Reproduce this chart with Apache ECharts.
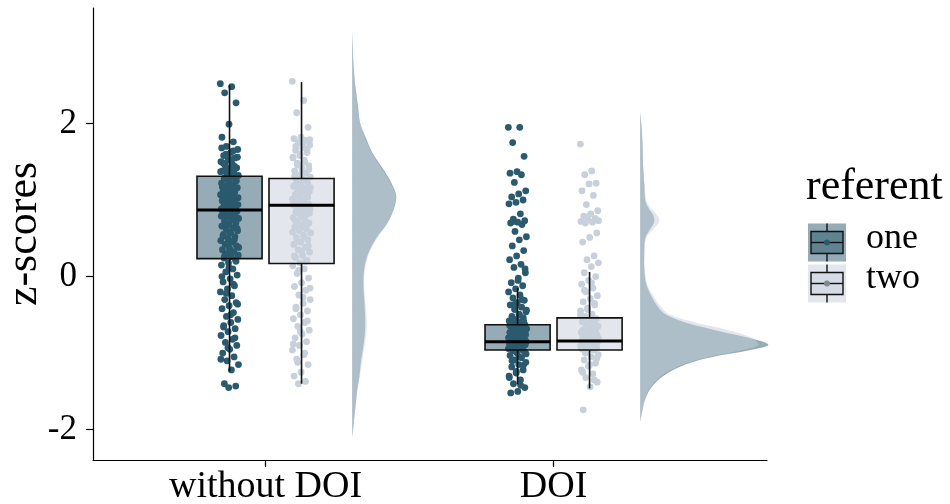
<!DOCTYPE html>
<html><head><meta charset="utf-8">
<script src="https://cdn.jsdelivr.net/npm/echarts@6/dist/echarts.min.js"></script>
<style>html,body{margin:0;padding:0;background:#fff}#c{width:950px;height:504px}</style>
</head><body><div id="c"></div><script>
// ---------- data ----------
const categories = ['without DOI', 'DOI'];
const referents = ['one', 'two'];
const yTicks = [-2, 0, 2];
// [lower whisker, Q1, median, Q3, upper whisker]
const boxOne = [[-1.24, 0.235, 0.87, 1.31, 2.50], [-1.41, -0.96, -0.85, -0.63, -0.15]];
const boxTwo = [[-1.40, 0.17, 0.93, 1.28, 2.54], [-1.46, -0.96, -0.84, -0.54, 0.06]];

const ptsOneWithout = [2.52, 2.48, 2.40, 2.27, 1.99, 1.82, 1.76, 1.70, 1.66, 1.62, 1.58, 1.55, 1.52, 1.50, 1.47, 1.45, 1.42, 1.40, 1.38, 1.36, 1.34, 1.32,
  1.30, 1.28, 1.26, 1.24, 1.22, 1.20, 1.18, 1.16, 1.14, 1.12, 1.10, 1.09, 1.07, 1.05, 1.04, 1.02, 1.00, 0.99, 0.97, 0.96, 0.94, 0.92, 0.91, 0.90,
  0.89, 0.88, 0.87, 0.86, 0.85, 0.84, 0.82, 0.80, 0.78, 0.76, 0.74, 0.72, 0.70, 0.68, 0.66, 0.64, 0.62, 0.60, 0.57, 0.55, 0.52, 0.50, 0.47, 0.45,
  0.42, 0.40, 0.37, 0.35, 0.32, 0.30, 0.28, 0.26, 0.24,
  0.22, 0.18, 0.15, 0.10, 0.06, 0.02, -0.03, -0.07, -0.12, -0.16, -0.20, -0.25, -0.30, -0.34, -0.38, -0.42, -0.47, -0.52, -0.56, -0.60,
  -0.64, -0.68, -0.72, -0.77, -0.82, -0.86, -0.90, -0.95, -1.00, -1.05, -1.10, -1.15, -1.22, -1.40, -1.43, -1.45,
  1.68, 1.64, 1.60, 1.56, 1.53, 1.48, 1.44, 1.41, 1.37, 1.33, 1.29, 1.25, 1.21, 1.17, 1.13, 1.08, 1.03, 0.98, 0.93, 0.88, 0.83, 0.79,
  0.75, 0.69, 0.63, 0.58, 0.53, 0.48, 0.43, 0.38, 0.33, 0.27, 0.20, 0.12, 0.00, -0.10, -0.22, -0.36, -0.50, -0.66, -0.80, -0.93, -1.08];
const ptsTwoWithout = [2.55, 2.30, 2.14, 1.95, 1.82, 1.80, 1.78, 1.75, 1.72, 1.68, 1.65, 1.62, 1.58, 1.55, 1.52, 1.48, 1.45, 1.42, 1.38, 1.35, 1.32, 1.30,
  1.27, 1.25, 1.22, 1.20, 1.18, 1.15, 1.13, 1.11, 1.09, 1.07, 1.05, 1.03, 1.01, 0.99, 0.97, 0.95, 0.94, 0.93, 0.92, 0.90, 0.88, 0.86, 0.84, 0.82,
  0.80, 0.77, 0.75, 0.72, 0.70, 0.67, 0.65, 0.62, 0.60, 0.57, 0.54, 0.51, 0.48, 0.45, 0.42, 0.38, 0.35, 0.32, 0.28, 0.25, 0.21, 0.18,
  0.14, 0.10, 0.04, -0.02, -0.08, -0.13, -0.18, -0.24, -0.30, -0.35, -0.40, -0.45, -0.50, -0.55, -0.60, -0.65, -0.70, -0.75, -0.80, -0.85,
  -0.90, -0.96, -1.02, -1.08, -1.15, -1.25, -1.30, -1.37, -1.40,
  1.79, 1.74, 1.70, 1.66, 1.60, 1.56, 1.50, 1.46, 1.40, 1.36, 1.31, 1.26, 1.21, 1.16, 1.12, 1.08, 1.04, 1.00, 0.96, 0.91, 0.87, 0.83,
  0.78, 0.73, 0.68, 0.63, 0.58, 0.52, 0.46, 0.40, 0.33, 0.27, 0.20, 0.08, -0.15, -0.27, -0.42, -0.58, -0.72, -0.88, -1.00, -1.12];
const ptsOneDOI = [1.95, 1.95, 1.75, 1.57, 1.37, 1.35, 1.33, 1.23, 1.12, 1.08, 1.04, 1.00, 0.97, 0.95, 0.82, 0.75, 0.73, 0.71, 0.70, 0.68, 0.59, 0.52,
  0.48, 0.40, 0.34, 0.27, 0.22, 0.16, 0.12, 0.05, -0.02, -0.08, -0.12, -0.16, -0.20, -0.24, -0.28, -0.31, -0.34, -0.37, -0.40, -0.43, -0.46,
  -0.49, -0.52, -0.54, -0.56, -0.58, -0.60, -0.62,
  -0.63, -0.64, -0.65, -0.66, -0.67, -0.68, -0.69, -0.70, -0.71, -0.72, -0.73, -0.74, -0.75, -0.76, -0.77, -0.78, -0.79, -0.80, -0.80, -0.81,
  -0.82, -0.82, -0.83, -0.84, -0.84, -0.85, -0.85, -0.86, -0.86, -0.87, -0.87, -0.88, -0.88, -0.89, -0.89, -0.90, -0.91, -0.92, -0.93, -0.94,
  -0.95, -0.96, -0.98, -1.00, -1.03, -1.06, -1.09, -1.12, -1.15, -1.18, -1.22, -1.26, -1.30, -1.35, -1.40, -1.45, -1.50, -1.52,
  -0.30, -0.36, -0.44, -0.50, -0.55, -0.59, -0.61, -0.64, -0.66, -0.68, -0.70, -0.72, -0.74, -0.76, -0.78, -0.80, -0.83, -0.86, -0.88,
  -0.90, -0.92, -0.94, -0.97, -1.01, -1.05, -1.10, -1.16, -1.24, -1.32, -1.42, 0.72, 0.10, -0.05];
const ptsTwoDOI = [1.73, 1.38, 1.33, 1.22, 1.21, 1.12, 1.06, 0.94, 0.86, 0.82, 0.79, 0.76, 0.74, 0.72, 0.71, 0.70, 0.57, 0.51, 0.45, 0.27, 0.22, 0.18,
  0.13, 0.05, 0.00, -0.05, -0.10, -0.15, -0.20, -0.25, -0.29, -0.33, -0.37, -0.41, -0.45, -0.49, -0.52,
  -0.55, -0.57, -0.59, -0.61, -0.63, -0.65, -0.67, -0.69, -0.70, -0.72, -0.73, -0.74, -0.75, -0.76, -0.77, -0.78, -0.79, -0.80, -0.81,
  -0.82, -0.82, -0.83, -0.83, -0.84, -0.84, -0.85, -0.85, -0.86, -0.87, -0.88, -0.89, -0.90, -0.91, -0.92, -0.93, -0.94, -0.95, -0.96,
  -0.99, -1.02, -1.05, -1.09, -1.13, -1.17, -1.22, -1.27, -1.32, -1.38, -1.44, -1.74,
  -0.35, -0.43, -0.50, -0.56, -0.60, -0.64, -0.68, -0.71, -0.75, -0.78, -0.81, -0.84, -0.86, -0.88, -0.90, -0.93, -0.95, -1.00,
  -1.07, -1.15, -1.25, -1.35, 0.78, 0.73, -0.08, -0.18];

// density estimates (half violins)
const densWithoutY = [3.2, 3.0, 2.8, 2.6, 2.4, 2.2, 2.0, 1.8, 1.6, 1.4, 1.2, 1.05, 0.9, 0.7, 0.5, 0.3, 0.1, -0.1, -0.3, -0.5, -0.7, -0.9, -1.1, -1.3, -1.5, -1.7, -1.9, -2.1];
const densWithoutOne = [0, 0.008, 0.015, 0.028, 0.05, 0.075, 0.10, 0.175, 0.26, 0.39, 0.50, 0.55, 0.525, 0.44, 0.30, 0.20, 0.15, 0.14, 0.15, 0.16, 0.16, 0.14, 0.11, 0.09, 0.06, 0.04, 0.02, 0];
const densWithoutTwo = [0, 0.006, 0.012, 0.025, 0.045, 0.07, 0.10, 0.165, 0.25, 0.375, 0.49, 0.545, 0.52, 0.44, 0.31, 0.21, 0.16, 0.15, 0.16, 0.18, 0.18, 0.155, 0.125, 0.095, 0.06, 0.04, 0.02, 0];
const densDOIY = [2.15, 2.0, 1.8, 1.6, 1.4, 1.2, 1.0, 0.9, 0.8, 0.72, 0.62, 0.5, 0.3, 0.1, -0.1, -0.25, -0.4, -0.5, -0.6, -0.7, -0.8, -0.89, -0.96, -1.05, -1.15, -1.3, -1.45, -1.6, -1.75, -1.9];
const densDOIOne = [0, 0.0125, 0.025, 0.031, 0.0375, 0.05, 0.0625, 0.1, 0.1625, 0.175, 0.125, 0.0625, 0.05, 0.05, 0.075, 0.1375, 0.225, 0.325, 0.5625, 0.9375, 1.35, 1.6, 1.375, 0.9, 0.5625, 0.2875, 0.1375, 0.0625, 0.025, 0];
const densDOITwo = [0, 0.0125, 0.025, 0.031, 0.0375, 0.056, 0.075, 0.125, 0.2125, 0.2375, 0.1625, 0.075, 0.05, 0.056, 0.0875, 0.1625, 0.2625, 0.375, 0.6875, 1.1, 1.4, 1.475, 1.275, 0.85, 0.525, 0.2625, 0.125, 0.0625, 0.031, 0];

// ---------- style / layout ----------
const FONT = 'Liberation Serif';
const darkCol = '#2b5a6e', lightCol = '#c8d0db';
const darkFill = 'rgba(43,90,110,0.5)', lightFill = 'rgba(200,208,219,0.5)';
const offsets = [-0.125, 0.125];
const boxW = 0.226, jitterW = 0.032, violinOffset = 0.301, violinScale = 0.278;

const chart = echarts.init(document.getElementById('c'), null, {renderer: 'canvas'});

function jit(i) { return (((i * 0.6180339887) % 1) - 0.5) * 2 * jitterW; }
function pts(arr, cat, r) { return arr.map((v, i) => [cat + offsets[r] + jit(i), v]); }

function boxData(stats, r) { return stats.map((s, ci) => [ci + 1 + offsets[r]].concat(s)); }

const violins = [
  {cat: 1, ys: densWithoutY, d: densWithoutOne, fill: darkFill},
  {cat: 2, ys: densDOIY, d: densDOIOne, fill: darkFill},
  {cat: 1, ys: densWithoutY, d: densWithoutTwo, fill: lightFill},
  {cat: 2, ys: densDOIY, d: densDOITwo, fill: lightFill}
];

function violinRender(params, api) {
  const v = violins[params.dataIndex];
  const base = v.cat + violinOffset;
  const points = v.ys.map((y, i) => api.coord([base + v.d[i] * violinScale, y]));
  let minX = Infinity, maxX = -Infinity, minY = Infinity, maxY = -Infinity;
  points.forEach(p => { minX = Math.min(minX, p[0]); maxX = Math.max(maxX, p[0]); minY = Math.min(minY, p[1]); maxY = Math.max(maxY, p[1]); });
  return {
    type: 'polygon',
    shape: {points: points, smooth: 0.35, smoothConstraint: [[minX, minY], [maxX, maxY]]},
    style: {fill: v.fill, stroke: null}
  };
}

function boxFillRender(fill) {
  return function (params, api) {
    const x = api.value(0), q1 = api.value(2), q3 = api.value(4);
    const a = api.coord([x - boxW / 2, q3]), b = api.coord([x + boxW / 2, q1]);
    return {type: 'rect', shape: {x: a[0], y: a[1], width: b[0] - a[0], height: b[1] - a[1]}, style: {fill: fill}};
  };
}
function boxLineRender(params, api) {
  const x = api.value(0), mn = api.value(1), q1 = api.value(2), md = api.value(3), q3 = api.value(4), mx = api.value(5);
  const a = api.coord([x - boxW / 2, q3]), b = api.coord([x + boxW / 2, q1]);
  const m = api.coord([x, md]), top = api.coord([x, mx]), bot = api.coord([x, mn]);
  const ln = {stroke: '#111', lineWidth: 1.6};
  return {type: 'group', children: [
    {type: 'line', shape: {x1: m[0], y1: top[1], x2: m[0], y2: a[1]}, style: ln},
    {type: 'line', shape: {x1: m[0], y1: b[1], x2: m[0], y2: bot[1]}, style: ln},
    {type: 'rect', shape: {x: a[0], y: a[1], width: b[0] - a[0], height: b[1] - a[1]}, style: {fill: null, stroke: '#111', lineWidth: 1.6}},
    {type: 'line', shape: {x1: a[0], y1: m[1], x2: b[0], y2: m[1]}, style: {stroke: '#000', lineWidth: 3}}
  ]};
}

const series = [
  {type: 'custom', z: 1, renderItem: violinRender, data: violins.map(v => [v.cat + violinOffset, 0]), encode: {x: 0, y: 1}, silent: true},
  {type: 'custom', z: 2, renderItem: boxFillRender(darkFill), data: boxData(boxOne, 0), encode: {x: 0, y: [1, 2, 3, 4, 5]}},
  {type: 'custom', z: 2, renderItem: boxFillRender(lightFill), data: boxData(boxTwo, 1), encode: {x: 0, y: [1, 2, 3, 4, 5]}},
  {type: 'scatter', z: 3, symbolSize: 6.8, itemStyle: {color: darkCol, opacity: 1}, data: pts(ptsOneWithout, 1, 0)},
  {type: 'scatter', z: 3, symbolSize: 6.8, itemStyle: {color: lightCol, opacity: 1}, data: pts(ptsTwoWithout, 1, 1)},
  {type: 'scatter', z: 3, symbolSize: 6.8, itemStyle: {color: darkCol, opacity: 1}, data: pts(ptsOneDOI, 2, 0)},
  {type: 'scatter', z: 3, symbolSize: 6.8, itemStyle: {color: lightCol, opacity: 1}, data: pts(ptsTwoDOI, 2, 1)},
  {type: 'custom', z: 4, renderItem: boxLineRender, data: boxData(boxOne, 0).concat(boxData(boxTwo, 1)), encode: {x: 0, y: [1, 2, 3, 4, 5]}}
];

// legend (drawn as graphics)
function legendKey(y, bg, boxFill, dot) {
  return {type: 'group', left: 808, top: y, children: [
    {type: 'rect', shape: {x: 0, y: 0, width: 38, height: 38}, style: {fill: bg}},
    {type: 'line', shape: {x1: 19, y1: 0, x2: 19, y2: 8}, style: {stroke: '#111', lineWidth: 1.4}},
    {type: 'line', shape: {x1: 19, y1: 30, x2: 19, y2: 38}, style: {stroke: '#111', lineWidth: 1.4}},
    {type: 'rect', shape: {x: 3, y: 8, width: 32, height: 22}, style: {fill: boxFill, stroke: '#111', lineWidth: 1.4}},
    {type: 'line', shape: {x1: 3, y1: 19, x2: 35, y2: 19}, style: {stroke: '#111', lineWidth: 1.4}},
    {type: 'circle', shape: {cx: 19, cy: 19, r: 3}, style: {fill: dot}}
  ]};
}

chart.setOption({
  animation: false,
  backgroundColor: '#fff',
  grid: {left: 93, right: 183, top: 8, bottom: 44, containLabel: false, outerBoundsMode: 'none'},
  xAxis: {
    type: 'value', min: 0.401, max: 2.741,
    axisLine: {show: true, onZero: false, lineStyle: {color: '#000', width: 1.2}},
    axisTick: {show: true, customValues: [1, 2], length: 7, lineStyle: {color: '#000', width: 1.2}},
    axisLabel: {customValues: [1, 2], formatter: v => categories[Math.round(v) - 1], color: '#000', fontFamily: FONT, fontSize: 38, margin: 8},
    splitLine: {show: false}
  },
  yAxis: {
    type: 'value', min: -2.396, max: 3.508,
    name: 'z-scores', nameLocation: 'middle', nameGap: 47, nameRotate: 90, nameMoveOverlap: false,
    nameTextStyle: {color: '#000', fontFamily: FONT, fontSize: 44},
    axisLine: {show: true, onZero: false, lineStyle: {color: '#000', width: 1.2}},
    axisTick: {show: true, customValues: yTicks, length: 7, lineStyle: {color: '#000', width: 1.2}},
    axisLabel: {customValues: yTicks, formatter: v => String(v), color: '#000', fontFamily: FONT, fontSize: 35, margin: 16},
    splitLine: {show: false}
  },
  series: series,
  graphic: [
    {type: 'text', left: 806, top: 165, style: {text: 'referent', font: '44px "Liberation Serif"', fill: '#000'}},
    legendKey(221, darkFill, 'rgba(43,90,110,0.5)', darkCol),
    legendKey(262, lightFill, 'rgba(200,208,219,0.5)', '#7d8894'),
    {type: 'text', left: 866, top: 221, style: {text: referents[0], font: '36px "Liberation Serif"', fill: '#000'}},
    {type: 'text', left: 866, top: 261, style: {text: referents[1], font: '36px "Liberation Serif"', fill: '#000'}}
  ]
});
</script></body></html>
